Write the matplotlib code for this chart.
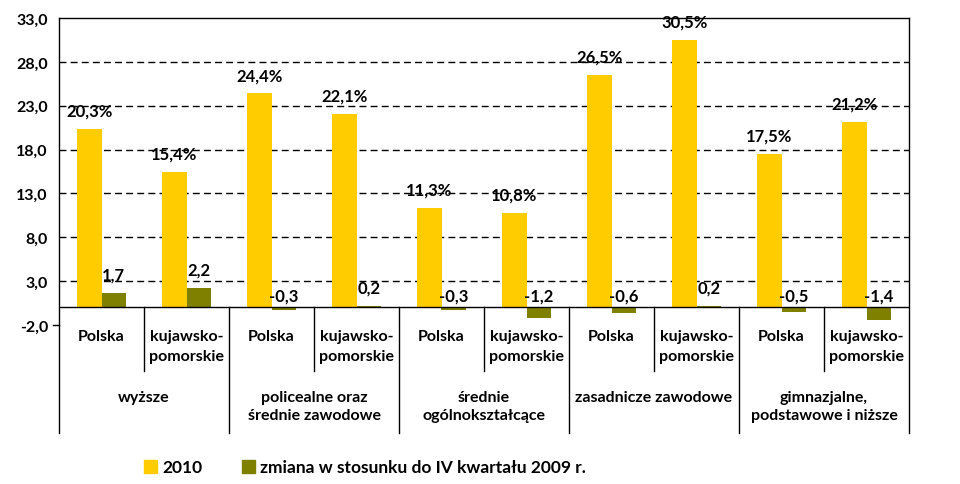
import matplotlib
matplotlib.use("Agg")
import matplotlib.pyplot as plt
from matplotlib.patches import Rectangle
import numpy as np

plt.rcParams['font.family'] = ['Lato', 'DejaVu Sans']

# data
groups = ["wyższe", "policealne oraz\nśrednie zawodowe", "średnie\nogólnokształcące",
          "zasadnicze zawodowe", "gimnazjalne,\npodstawowe i niższe"]
regions = ["Polska", "kujawsko-\npomorskie"]
values_2010 = [20.3, 15.4, 24.4, 22.1, 11.3, 10.8, 26.5, 30.5, 17.5, 21.2]
values_change = [1.7, 2.2, -0.3, 0.2, -0.3, -1.2, -0.6, 0.2, -0.5, -1.4]
yticks = [-2, 3, 8, 13, 18, 23, 28, 33]
legend_labels = ["2010", "zmiana w stosunku do IV kwartału 2009 r."]

YELLOW = "#FFCC00"
OLIVE = "#808000"
W, H = 960, 485


def fmt(v, pct=False):
    s = f"{v:.1f}".replace(".", ",")
    return s + "%" if pct else s


fig = plt.figure(figsize=(W / 100, H / 100), dpi=100)
# plot area in pixels: left 59, right 909, top 19, bottom (y=-2) 326
ax = fig.add_axes([59 / W, 1 - 326 / H, 850 / W, 307 / H])
ymin, ymax = -2, 33
ax.set_ylim(ymin, ymax)
ax.set_xlim(-0.5, 9.5)

x = np.arange(len(values_2010))
bw = 0.29
ax.bar(x - bw / 2, values_2010, bw, color=YELLOW, zorder=3)
ax.bar(x + bw / 2, values_change, bw, color=OLIVE, zorder=3)

for xi, v in zip(x, values_2010):
    ax.annotate(fmt(v, True), (xi - bw / 2, v), xytext=(0, 7.5), textcoords="offset points",
                ha="center", va="bottom", fontsize=12, fontweight="bold", zorder=4)
for xi, v in zip(x, values_change):
    ax.annotate(fmt(v), (xi + bw / 2, max(v, 0)), xytext=(0, 7.5 if v > 0 else 2.5),
                textcoords="offset points", ha="center", va="bottom",
                fontsize=12, fontweight="bold", zorder=4)

# grid and frame
for t in yticks[1:-1]:
    ax.axhline(t, color="black", lw=1, ls=(0, (5, 3)), zorder=1)
ax.axhline(0, color="black", lw=1, zorder=4)
for s in ax.spines.values():
    s.set_visible(False)
ax.spines["top"].set_visible(True)
ax.spines["top"].set_linewidth(1)

ax.set_xticks([])
ax.set_yticks(yticks)
ax.set_yticklabels([fmt(t) for t in yticks], fontsize=11.5, fontweight="bold")
ax.tick_params(axis="y", length=0, pad=8)

# category axis lines (axes fraction in y)
zero_f = (0 - ymin) / (ymax - ymin)
sub_bottom = -0.15
grp_bottom = -0.352
line_kw = dict(color="black", lw=1, clip_on=False, transform=ax.get_xaxis_transform())
for xe in (-0.5, 9.5):
    ax.plot([xe, xe], [grp_bottom, 1], **line_kw)
for i in range(len(x) - 1):
    xe = i + 0.5
    bottom = grp_bottom if i % 2 == 1 else sub_bottom
    ax.plot([xe, xe], [zero_f, bottom], **line_kw)
ax.plot([-0.57, -0.5], [0, 0], **line_kw)

txt_kw = dict(transform=ax.get_xaxis_transform(), ha="center", va="top",
              fontsize=11.5, fontweight="bold", clip_on=False)
for i in x:
    ax.text(i, -0.012, regions[i % 2], linespacing=1.55, **txt_kw)
for g, name in enumerate(groups):
    ax.text(2 * g + 0.5, -0.212, name, linespacing=1.4, **txt_kw)

# legend
for (px, lab), col in zip([(144, legend_labels[0]), (242, legend_labels[1])], [YELLOW, OLIVE]):
    fig.add_artist(Rectangle((px / W, 1 - 474 / H), 13 / W, 13 / H,
                             transform=fig.transFigure, color=col))
    fig.text((px + 18) / W, 1 - 468 / H, lab, ha="left", va="center",
             fontsize=12.5, fontweight="bold")

fig.savefig("out.png", dpi=100)
